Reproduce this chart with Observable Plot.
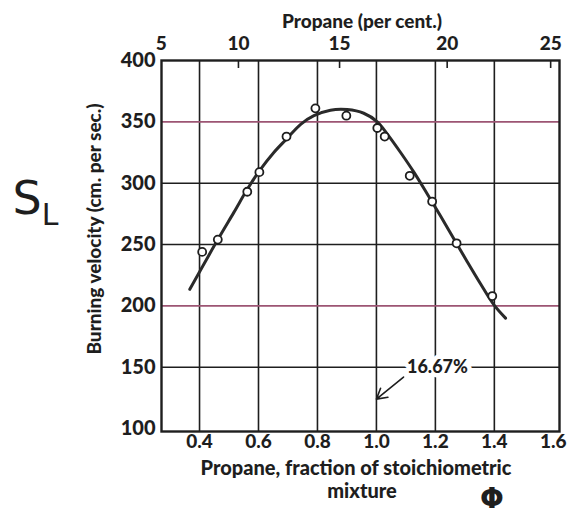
<!DOCTYPE html>
<html><head><meta charset="utf-8">
<script src="https://cdn.jsdelivr.net/npm/d3@7"></script>
<script src="https://cdn.jsdelivr.net/npm/@observablehq/plot@0.6"></script>
<style>body{margin:0;background:#fff} svg{display:block;background:#fff}</style>
</head><body><div id="chart"></div>
<script>
// measured points (phi, burning velocity cm/s)
const pointPhi = [0.409, 0.462, 0.562, 0.603, 0.695, 0.793, 0.898, 1.003, 1.028, 1.113, 1.189, 1.272, 1.393];
const pointSL  = [244, 254, 293, 309, 338, 361, 355, 345, 338, 306, 285, 251, 208];
// smooth drawn curve
const curvePhi = [0.367, 0.462, 0.516, 0.562, 0.603, 0.652, 0.695, 0.743, 0.788, 0.844, 0.901, 0.957, 1.003, 1.037, 1.082, 1.127, 1.173, 1.218, 1.263, 1.308, 1.353, 1.398, 1.438];
const curveSL  = [213.5, 254, 276, 295, 310, 325, 336, 348, 355, 359.5, 360, 357, 350, 340, 325, 309, 291, 273, 254.5, 236, 218, 201, 190];
// axes
const xTicks = [0.4, 0.6, 0.8, 1.0, 1.2, 1.4, 1.6];
const xTickLabels = ["0.4", "0.6", "0.8", "1.0", "1.2", "1.4", "1.6"];
const yTicks = [100, 150, 200, 250, 300, 350, 400];
const vGrid = [0.4, 0.6, 0.8, 1.0, 1.2, 1.4];
const darkGrid = [150, 250, 300];
const pinkGrid = [200, 350];
const topLabels = ["5", "10", "15", "20", "25"];
const topPhi = [0.27, 0.532, 0.875, 1.240, 1.591];
// annotation
const noteText = "16.67%";
const notePhi = 1.207, noteSL = 150;
const arrowFrom = {phi: 1.092, sl: 142};
const arrowTo = {phi: 1.0, sl: 124};

const points = pointPhi.map((p, i) => ({phi: p, sl: pointSL[i]}));
const curve = curvePhi.map((p, i) => ({phi: p, sl: curveSL[i]}));
const FONT = "Lato, 'DejaVu Sans', sans-serif";
const INK = "#1e1e1e";

const svg = Plot.plot({
  width: 570,
  height: 516,
  marginLeft: 161,
  marginRight: 11,
  marginTop: 60,
  marginBottom: 85,
  style: {fontFamily: FONT, background: "#fff", color: INK},
  x: {domain: [0.271, 1.621]},
  y: {domain: [97.6, 400]},
  marks: [
    Plot.ruleX(vGrid, {stroke: INK, strokeWidth: 1.6}),
    Plot.ruleY(darkGrid, {stroke: INK, strokeWidth: 1.6}),
    Plot.ruleY(pinkGrid, {stroke: "#9c5573", strokeWidth: 1.6}),
    Plot.ruleX(topPhi.slice(1), {y1: 400, y2: 393.5, stroke: INK, strokeWidth: 1.6}),
    Plot.frame({stroke: INK, strokeWidth: 2.4}),
    Plot.line(curve, {x: "phi", y: "sl", curve: "catmull-rom", stroke: "#2a2a2a", strokeWidth: 3}),
    Plot.dot(points, {x: "phi", y: "sl", r: 4, fill: "white", stroke: INK, strokeWidth: 1.8}),
    Plot.text([noteText], {x: notePhi, y: noteSL, text: d => d, fontSize: 18, fontWeight: 900, fill: INK, stroke: "white", strokeWidth: 9, paintOrder: "stroke"}),
    Plot.arrow([0], {x1: arrowFrom.phi, y1: arrowFrom.sl, x2: arrowTo.phi, y2: arrowTo.sl, stroke: INK, strokeWidth: 1.6, headLength: 11}),
    Plot.axisY(yTicks, {tickSize: 0, tickPadding: 6, fontSize: 20, fontWeight: 900, fill: INK, label: null}),
    Plot.axisX(xTicks, {anchor: "bottom", tickSize: 0, tickPadding: 3, fontSize: 19, fontWeight: 900, fill: INK, tickFormat: (d, i) => xTickLabels[i], label: null}),
    Plot.axisX(topPhi, {anchor: "top", tickSize: 0, tickPadding: 11, fontSize: 19, fontWeight: 900, fill: INK, tickFormat: (d, i) => topLabels[i], label: null})
  ]
});

const s = d3.select(svg);
const addText = (t, x, y, size, opts = {}) => {
  const el = s.append("text").attr("x", x).attr("y", y)
    .attr("font-family", opts.family || FONT).attr("font-size", size)
    .attr("font-weight", opts.weight || 900).attr("fill", INK)
    .attr("text-anchor", opts.anchor || "middle").text(t);
  if (opts.transform) el.attr("transform", opts.transform);
  return el;
};
addText("Propane, fraction of stoichiometric", 356, 475, 20);
addText("mixture", 362, 498, 20);
addText("Propane (per cent.)", 362, 28, 19);
addText("Φ", 492, 508, 28, {weight: 700, family: "'DejaVu Sans', sans-serif"});
addText("Burning velocity (cm. per sec.)", 0, 0, 19, {transform: "translate(101,229) rotate(-90)"});
addText("S", 27, 214, 46, {weight: 400, family: "'DejaVu Sans', sans-serif"});
addText("L", 50, 225, 30, {weight: 400, family: "'DejaVu Sans', sans-serif"});

document.getElementById("chart").appendChild(svg);
</script>
</body></html>
